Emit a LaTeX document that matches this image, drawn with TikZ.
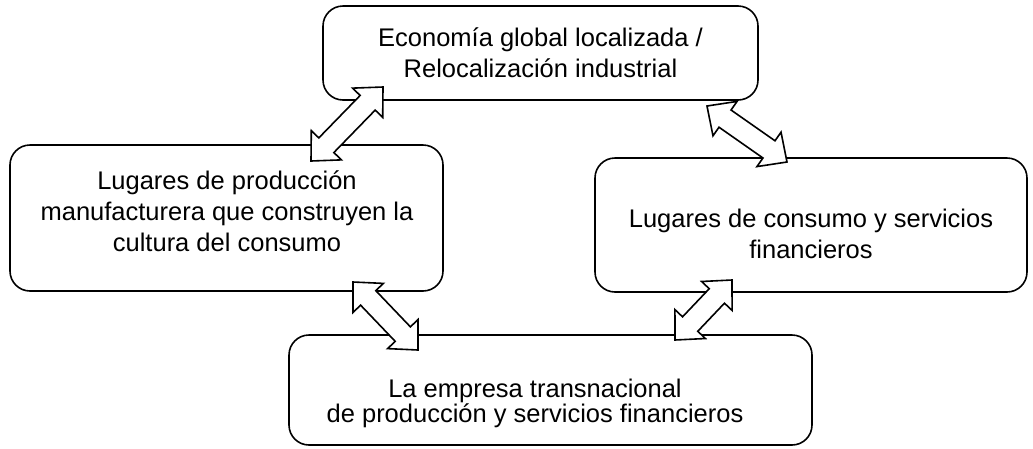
\documentclass[tikz,border=0pt]{standalone}
\usepackage{fontspec}
\setmainfont{Liberation Sans}
\usetikzlibrary{calc}
\tikzset{
  box/.style={draw, line width=1.6pt, rounded corners=20pt, inner sep=0pt},
  txt/.style={align=center, font=\fontsize{25.5}{31}\selectfont, inner sep=0pt},
  blockarrow/.style={draw, fill=white, line width=1.6pt, line join=miter},
}
\def\arhl{22pt}
\def\arhh{21pt}
\def\arsw{10.5pt}
\newcommand\dbarrow[2]{%
  \coordinate (q1) at ($(#1)!\arhl!(#2)$);
  \coordinate (q2) at ($(#2)!\arhl!(#1)$);
  \draw[blockarrow] (#1) -- ($(q1)!\arhh!90:(#2)$) -- ($(q1)!\arsw!90:(#2)$)
    -- ($(q2)!\arsw!-90:(#1)$) -- ($(q2)!\arhh!-90:(#1)$) -- (#2)
    -- ($(q2)!\arhh!90:(#1)$) -- ($(q2)!\arsw!90:(#1)$)
    -- ($(q1)!\arsw!-90:(#2)$) -- ($(q1)!\arhh!-90:(#2)$) -- cycle;
}
\begin{document}
\begin{tikzpicture}[x=1pt, y=-1pt]
\useasboundingbox (0,0) rectangle (1033,448);
% boxes
\node[box, minimum width=435pt, minimum height=94pt] (top) at (540.5,53) {};
\node[box, minimum width=433pt, minimum height=146pt] (left) at (226.5,218) {};
\node[box, minimum width=432pt, minimum height=134pt] (right) at (811,225) {};
\node[box, minimum width=523pt, minimum height=110pt] (bottom) at (550.5,390) {};
% texts
\node[txt] (ttop) at (540.5,53) {Economía global localizada /\\Relocalización industrial};
\node[txt] (tleft) at (227,211) {Lugares de producción\\manufacturera que construyen la\\cultura del consumo};
\node[txt] (tright) at (811,234) {Lugares de consumo y servicios\\financieros};
\node[txt, font=\fontsize{25.5}{25}\selectfont] (tbottom) at (535,403) {La empresa transnacional\\de producción y servicios financieros};
% arrow tips
\coordinate (a1s) at (383,87);
\coordinate (a1e) at (311,161);
\coordinate (a2s) at (707,106);
\coordinate (a2e) at (787,162);
\coordinate (a3s) at (353,282);
\coordinate (a3e) at (418,350);
\coordinate (a4s) at (732,280);
\coordinate (a4e) at (675,340);
\dbarrow{a1s}{a1e}
\dbarrow{a2s}{a2e}
\dbarrow{a3s}{a3e}
\dbarrow{a4s}{a4e}
\end{tikzpicture}
\end{document}
